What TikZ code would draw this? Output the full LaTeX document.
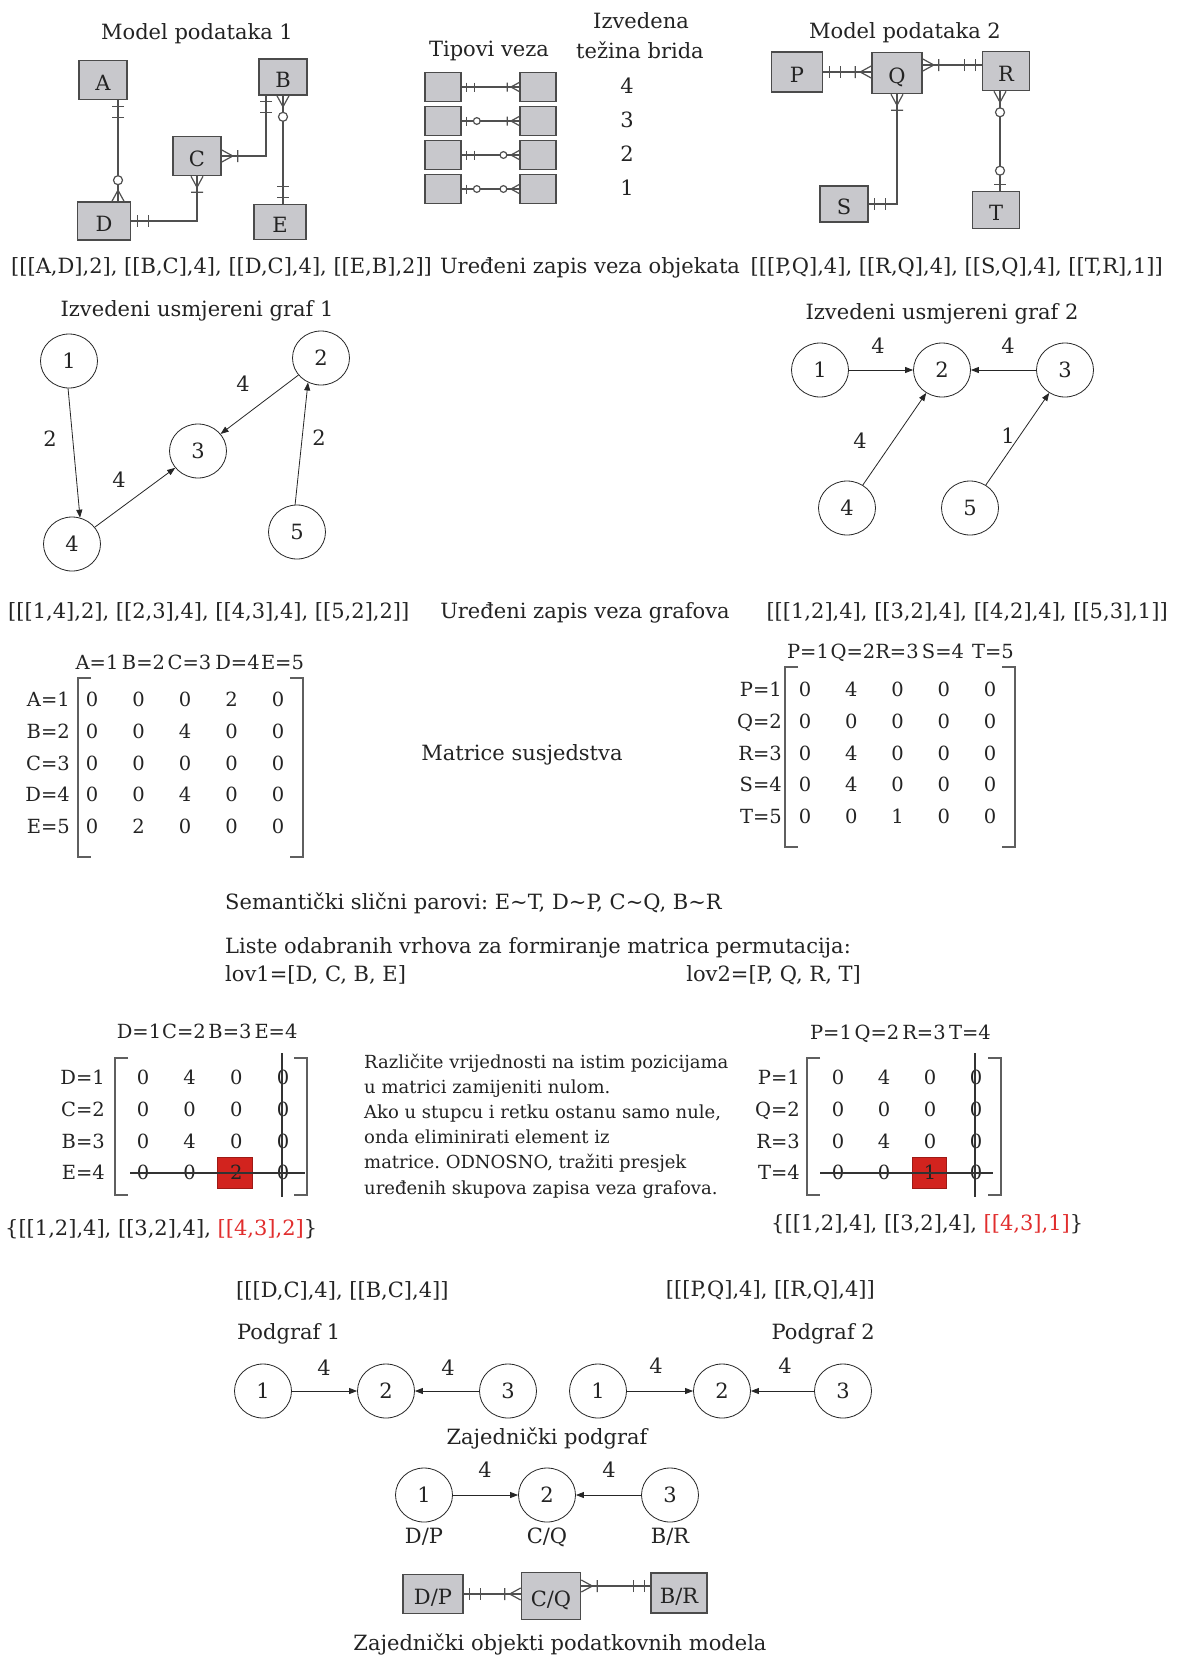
\documentclass[tikz,border=0pt]{standalone}
\usepackage{fontspec}
\setmainfont{DejaVu Serif}
\usetikzlibrary{arrows.meta,shapes.geometric,calc}
\definecolor{erfill}{RGB}{200,200,204}
\definecolor{erdraw}{RGB}{75,75,75}
\definecolor{erln}{RGB}{80,80,80}
\definecolor{txtc}{RGB}{35,35,35}
\definecolor{redbox}{RGB}{210,35,30}
\definecolor{redtxt}{RGB}{225,45,45}
\definecolor{brkc}{RGB}{95,95,95}
\frenchspacing
\tikzset{
  erl/.style={draw=erln, line width=1.2pt},
  ermand/.pic={\draw[erl] (6,-6)--(6,6) (17,-6)--(17,6);},
  eronemany/.pic={\draw[erl] (0,-6)--(11,0)--(0,6) (16,-6)--(16,6);},
  erzeromany/.pic={\draw[erl] (0,-6)--(11,0)--(0,6); \draw[erl,fill=white] (21,0) circle[radius=4.5];},
  erzeroone/.pic={\draw[erl] (6,-6)--(6,6); \draw[erl,fill=white] (20,0) circle[radius=4.5];},
}
\begin{document}
\begin{tikzpicture}[x=1pt,y=-1pt, font=\fontsize{21}{25}\selectfont, text=txtc,
  txt/.style={inner sep=0pt, text height=0.73em, text depth=0pt, yshift=-3pt},
  mtx/.style={txt, font=\fontsize{19.5}{22}\selectfont},
  expl/.style={inner sep=0pt, anchor=base west, font=\fontsize{18}{20}\selectfont},
  erbox/.style={draw=erdraw, fill=erfill, line width=1.6pt, inner sep=0pt, text height=21pt, text depth=0pt},
  gn/.style={ellipse, draw=black!85, line width=0.8pt, minimum width=57pt, minimum height=54pt, inner sep=0pt},
  arr/.style={draw=black!85, line width=0.8pt, -{Triangle[length=8pt,width=6pt]}},
  brk/.style={draw=brkc, line width=1.5pt},
  strike/.style={draw=black!80, line width=1.1pt}]
\useasboundingbox (0,0) rectangle (1176,1657);
\fill[white] (0,0) rectangle (1176,1657);

% ---------- Model podataka 1 ----------
\node[txt] (t1) at (197,33) {Model podataka 1};
\node[erbox, minimum width=48pt, minimum height=39pt] (A) at (103,80) {A};
\node[erbox, minimum width=48pt, minimum height=36pt] (B) at (283,77) {B};
\node[erbox, minimum width=48pt, minimum height=39pt] (C) at (197,156) {C};
\node[erbox, minimum width=53pt, minimum height=38pt] (D) at (104,221) {D};
\node[erbox, minimum width=52pt, minimum height=35pt] (E) at (280,222) {E};
\coordinate (ad) at ($(A.south)+(15,0)$);
\draw[erl] (ad) -- (ad |- D.north);
\pic[rotate=-90] at (ad) {ermand};
\pic[rotate=90] at (ad |- D.north) {erzeromany};
\draw[erl] (D.east) -| (C.south);
\pic at (D.east) {ermand};
\pic[rotate=-90] at (C.south) {eronemany};
\coordinate (bc) at ($(B.south)+(-17,0)$);
\draw[erl] (C.east) -| (bc);
\pic at (C.east) {eronemany};
\pic[rotate=-90] at (bc) {ermand};
\draw[erl] (B.south) -- (B.south |- E.north);
\pic[rotate=-90] at (B.south) {erzeromany};
\pic[rotate=90] at (B.south |- E.north) {ermand};

% ---------- Tipovi veza ----------
\node[txt] (t2) at (489,50) {Tipovi veza};
\node[txt] (t3) at (641,22) {Izvedena};
\node[txt] (t4) at (640,52) {težina brida};
\tikzset{tb/.style={erbox, minimum width=36pt, minimum height=29pt}}
\node[tb] (tl1) at (443,87) {};  \node[tb] (tr1) at (538,87) {};
\node[tb] (tl2) at (443,121) {}; \node[tb] (tr2) at (538,121) {};
\node[tb] (tl3) at (443,155) {}; \node[tb] (tr3) at (538,155) {};
\node[tb] (tl4) at (443,189) {}; \node[tb] (tr4) at (538,189) {};
\draw[erl] (tl1) -- (tr1); \draw[erl] (tl2) -- (tr2);
\draw[erl] (tl3) -- (tr3); \draw[erl] (tl4) -- (tr4);
\pic[scale=0.75] at (tl1.east) {ermand};
\pic[scale=0.75, rotate=180] at (tr1.west) {eronemany};
\pic[scale=0.75] at (tl2.east) {erzeroone};
\pic[scale=0.75, rotate=180] at (tr2.west) {eronemany};
\pic[scale=0.75] at (tl3.east) {ermand};
\pic[scale=0.75, rotate=180] at (tr3.west) {erzeromany};
\pic[scale=0.75] at (tl4.east) {erzeroone};
\pic[scale=0.75, rotate=180] at (tr4.west) {erzeromany};
\node[txt] (w1) at (627,87) {4};
\node[txt] (w2) at (627,121) {3};
\node[txt] (w3) at (627,155) {2};
\node[txt] (w4) at (627,189) {1};

% ---------- Model podataka 2 ----------
\node[txt] (t5) at (905,32) {Model podataka 2};
\node[erbox, minimum width=51pt, minimum height=40pt] (P) at (797,72) {P};
\node[erbox, minimum width=50pt, minimum height=41pt] (Q) at (897,73) {Q};
\node[erbox, minimum width=47pt, minimum height=39pt] (R) at (1006,71) {R};
\node[erbox, minimum width=48pt, minimum height=36pt] (S) at (844,204) {S};
\node[erbox, minimum width=47pt, minimum height=37pt] (T) at (996,210) {T};
\draw[erl] (P.east) -- (P.east -| Q.west);
\pic at (P.east) {ermand};
\pic[rotate=180] at (P.east -| Q.west) {eronemany};
\coordinate (qr) at ($(Q.east)+(0,-8)$);
\draw[erl] (qr) -- (qr -| R.west);
\pic at (qr) {eronemany};
\pic[rotate=180] at (qr -| R.west) {ermand};
\draw[erl] (Q.south) |- (S.east);
\pic[rotate=-90] at (Q.south) {eronemany};
\pic at (S.east) {ermand};
\coordinate (rt) at ($(R.south)+(-6,0)$);
\draw[erl] (rt) -- (rt |- T.north);
\pic[rotate=-90] at (rt) {erzeromany};
\pic[rotate=90] at (rt |- T.north) {erzeroone};

% ---------- zapis veza objekata ----------
\node[txt, anchor=west] (z1) at (11,267) {[[[A,D],2], [[B,C],4], [[D,C],4], [[E,B],2]]};
\node[txt] (z2) at (590,267) {Uređeni zapis veza objekata};
\node[txt, anchor=east] (z3) at (1163,267) {[[[P,Q],4], [[R,Q],4], [[S,Q],4], [[T,R],1]]};

% ---------- Graf 1 ----------
\node[txt] (t6) at (197,310) {Izvedeni usmjereni graf 1};
\node[gn] (g1a) at (69,361) {1};
\node[gn] (g1b) at (321,358) {2};
\node[gn] (g1c) at (198,451) {3};
\node[gn] (g1d) at (72,544) {4};
\node[gn] (g1e) at (297,532) {5};
\draw[arr] (g1a.-92) -- (g1d.73);
\draw[arr] (g1b) -- (g1c);
\draw[arr] (g1d) -- (g1c);
\draw[arr] (g1e.94) -- (g1b.-118);
\node[txt] (l1) at (50,440) {2};
\node[txt] (l2) at (243,385) {4};
\node[txt] (l3) at (119,481) {4};
\node[txt] (l4) at (319,439) {2};

% ---------- Graf 2 ----------
\node[txt] (t7) at (942,313) {Izvedeni usmjereni graf 2};
\node[gn] (g2a) at (820,370) {1};
\node[gn] (g2b) at (942,370) {2};
\node[gn] (g2c) at (1065,370) {3};
\node[gn] (g2d) at (847,508) {4};
\node[gn] (g2e) at (970,508) {5};
\draw[arr] (g2a) -- (g2b);
\draw[arr] (g2c) -- (g2b);
\draw[arr] (g2d) -- (g2b);
\draw[arr] (g2e) -- (g2c);
\node[txt] (l5) at (878,347) {4};
\node[txt] (l6) at (1008,347) {4};
\node[txt] (l7) at (860,442) {4};
\node[txt] (l8) at (1008,437) {1};

% ---------- zapis veza grafova ----------
\node[txt, anchor=west] (z4) at (8,612) {[[[1,4],2], [[2,3],4], [[4,3],4], [[5,2],2]]};
\node[txt] (z5) at (585,612) {Uređeni zapis veza grafova};
\node[txt, anchor=east] (z6) at (1168,612) {[[[1,2],4], [[3,2],4], [[4,2],4], [[5,3],1]]};

% ---------- Matrica 1 ----------
\foreach \lab/\xx [count=\k] in {A=1/97, B=2/143.5, C=3/189.5, D=4/237.5, E=5/282.5}
  \node[mtx] (ha\k) at (\xx,663) {\lab};
\foreach \lab [count=\k] in {A=1,B=2,C=3,D=4,E=5}
  \node[mtx, anchor=east] (ra\k) at (70,{700+31.75*(\k-1)}) {\lab};
\foreach \row [count=\r] in {{0,0,0,2,0},{0,0,4,0,0},{0,0,0,0,0},{0,0,4,0,0},{0,2,0,0,0}}
  \foreach \v [count=\c] in \row
    \node[mtx] (ma\r\c) at ({92+46.5*(\c-1)},{700+31.75*(\r-1)}) {\v};
\draw[brk] (91,678) -- (78,678) -- (78,857) -- (91,857);
\draw[brk] (290,678) -- (303,678) -- (303,857) -- (290,857);

\node[txt] (ms) at (522,754) {Matrice susjedstva};

% ---------- Matrica 2 ----------
\foreach \lab/\xx [count=\k] in {P=1/808, Q=2/853, R=3/897, S=4/943, T=5/993}
  \node[mtx] (hb\k) at (\xx,652) {\lab};
\foreach \lab [count=\k] in {P=1,Q=2,R=3,S=4,T=5}
  \node[mtx, anchor=east] (rb\k) at (782,{690+31.75*(\k-1)}) {\lab};
\foreach \row [count=\r] in {{0,4,0,0,0},{0,0,0,0,0},{0,4,0,0,0},{0,4,0,0,0},{0,0,1,0,0}}
  \foreach \v [count=\c] in \row
    \node[mtx] (mb\r\c) at ({805+46.25*(\c-1)},{690+31.75*(\r-1)}) {\v};
\draw[brk] (798,667) -- (785,667) -- (785,847) -- (798,847);
\draw[brk] (1002,667) -- (1015,667) -- (1015,847) -- (1002,847);

% ---------- tekst ----------
\node[txt, anchor=west] (s1) at (225,903) {Semantički slični parovi: E\textasciitilde T, D\textasciitilde P, C\textasciitilde Q, B\textasciitilde R};
\node[txt, anchor=west] (s2) at (225,947) {Liste odabranih vrhova za formiranje matrica permutacija:};
\node[txt, anchor=west] (s3) at (225,975) {lov1=[D, C, B, E]};
\node[txt, anchor=east] (s4) at (861,975) {lov2=[P, Q, R, T]};

% ---------- Matrica 3 ----------
\foreach \lab/\xx [count=\k] in {D=1/139, C=2/184, B=3/230, E=4/276}
  \node[mtx] (hc\k) at (\xx,1032) {\lab};
\foreach \lab [count=\k] in {D=1,C=2,B=3,E=4}
  \node[mtx, anchor=east] (rc\k) at (105,{1078+31.7*(\k-1)}) {\lab};
\node[fill=redbox, draw=redbox!75!black, line width=0.6pt, minimum width=35pt, minimum height=31pt, inner sep=0pt] (red1) at (234.5,1172.5) {};
\foreach \row [count=\r] in {{0,4,0,0},{0,0,0,0},{0,4,0,0},{0,0,2,0}}
  \foreach \v [count=\c] in \row
    \node[mtx] (mc\r\c) at ({143+46.7*(\c-1)},{1078+31.7*(\r-1)}) {\v};
\draw[brk] (128,1058) -- (115,1058) -- (115,1195) -- (128,1195);
\draw[brk] (294,1058) -- (307,1058) -- (307,1195) -- (294,1195);
\draw[strike] (130,1173) -- (305,1173);
\draw[strike] (282,1053) -- (282,1197);

% ---------- Matrica 4 ----------
\foreach \lab/\xx [count=\k] in {P=1/831, Q=2/877, R=3/924, T=4/970}
  \node[mtx] (hd\k) at (\xx,1033) {\lab};
\foreach \lab [count=\k] in {P=1,Q=2,R=3,T=4}
  \node[mtx, anchor=east] (rd\k) at (800,{1078+31.7*(\k-1)}) {\lab};
\node[fill=redbox, draw=redbox!75!black, line width=0.6pt, minimum width=34pt, minimum height=31pt, inner sep=0pt] (red2) at (929,1172.5) {};
\foreach \row [count=\r] in {{0,4,0,0},{0,0,0,0},{0,4,0,0},{0,0,1,0}}
  \foreach \v [count=\c] in \row
    \node[mtx] (md\r\c) at ({838+46*(\c-1)},{1078+31.7*(\r-1)}) {\v};
\draw[brk] (820,1058) -- (807,1058) -- (807,1195) -- (820,1195);
\draw[brk] (988,1058) -- (1001,1058) -- (1001,1195) -- (988,1195);
\draw[strike] (820,1173) -- (993,1173);
\draw[strike] (975,1053) -- (975,1197);

% ---------- objasnjenje ----------
\node[expl] (e1) at (364,1068) {Različite vrijednosti na istim pozicijama};
\node[expl] (e2) at (364,1093.2) {u matrici zamijeniti nulom.};
\node[expl] (e3) at (364,1118.4) {Ako u stupcu i retku ostanu samo nule,};
\node[expl] (e4) at (364,1143.6) {onda eliminirati element iz};
\node[expl] (e5) at (364,1168.8) {matrice. ODNOSNO, tražiti presjek};
\node[expl] (e6) at (364,1194) {uređenih skupova zapisa veza grafova.};

\node[txt, anchor=west] (p1) at (5,1229) {\{[[1,2],4], [[3,2],4], \textcolor{redtxt}{[[4,3],2]}\}};
\node[txt, anchor=west] (p2) at (771,1224) {\{[[1,2],4], [[3,2],4], \textcolor{redtxt}{[[4,3],1]}\}};

% ---------- Podgrafovi ----------
\node[txt, anchor=west] (q1) at (236,1291) {[[[D,C],4], [[B,C],4]]};
\node[txt, anchor=east] (q2) at (875,1290) {[[[P,Q],4], [[R,Q],4]]};
\node[txt, anchor=west] (q3) at (237,1333) {Podgraf 1};
\node[txt, anchor=east] (q4) at (875,1333) {Podgraf 2};

\node[gn] (p1a) at (263,1391) {1};
\node[gn] (p1b) at (386,1391) {2};
\node[gn] (p1c) at (508,1391) {3};
\draw[arr] (p1a) -- (p1b);
\draw[arr] (p1c) -- (p1b);
\node[txt] (l9) at (324,1369) {4};
\node[txt] (l10) at (448,1369) {4};

\node[gn] (p2a) at (598,1391) {1};
\node[gn] (p2b) at (722,1391) {2};
\node[gn] (p2c) at (843,1391) {3};
\draw[arr] (p2a) -- (p2b);
\draw[arr] (p2c) -- (p2b);
\node[txt] (l11) at (656,1367) {4};
\node[txt] (l12) at (785,1367) {4};

\node[txt] (q5) at (547,1438) {Zajednički podgraf};
\node[gn] (cma) at (424,1495) {1};
\node[gn] (cmb) at (547,1495) {2};
\node[gn] (cmc) at (670,1495) {3};
\draw[arr] (cma) -- (cmb);
\draw[arr] (cmc) -- (cmb);
\node[txt] (l13) at (485,1471) {4};
\node[txt] (l14) at (609,1471) {4};
\node[txt] (c1) at (424,1537) {D/P};
\node[txt] (c2) at (547,1537) {C/Q};
\node[txt] (c3) at (670,1537) {B/R};

% ---------- zajednicki objekti ----------
\node[erbox, minimum width=60pt, minimum height=39pt] (DP) at (433,1594) {D/P};
\node[erbox, minimum width=59pt, minimum height=47pt] (CQ) at (551,1596) {C/Q};
\node[erbox, minimum width=56pt, minimum height=40pt] (BR) at (679,1593) {B/R};
\draw[erl] (DP.east) -- (DP.east -| CQ.west);
\pic at (DP.east) {ermand};
\pic[rotate=180] at (DP.east -| CQ.west) {eronemany};
\coordinate (cb) at ($(CQ.east)+(0,-10)$);
\draw[erl] (cb) -- (cb -| BR.west);
\pic at (cb) {eronemany};
\pic[rotate=180] at (cb -| BR.west) {ermand};
\node[txt] (q6) at (560,1644) {Zajednički objekti podatkovnih modela};
\end{tikzpicture}
\end{document}
